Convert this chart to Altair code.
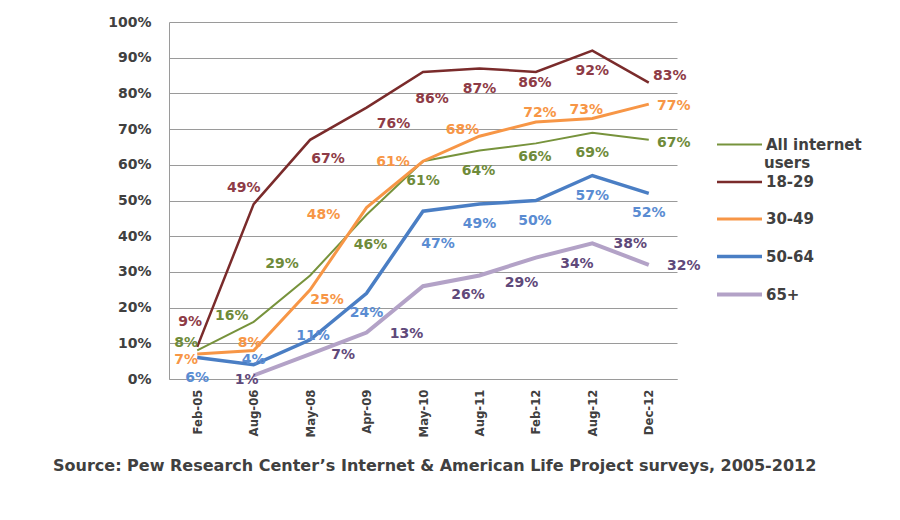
import altair as alt
import pandas as pd

dates = ["Feb-05", "Aug-06", "May-08", "Apr-09", "May-10", "Aug-11", "Feb-12", "Aug-12", "Dec-12"]
series_names = ["All internet users", "18-29", "30-49", "50-64", "65+"]
all_users = [8, 16, 29, 46, 61, 64, 66, 69, 67]
age_18_29 = [9, 49, 67, 76, 86, 87, 86, 92, 83]
age_30_49 = [7, 8, 25, 48, 61, 68, 72, 73, 77]
age_50_64 = [6, 4, 11, 24, 47, 49, 50, 57, 52]
age_65_plus = [None, 1, 7, 13, 26, 29, 34, 38, 32]
y_ticks = [0, 10, 20, 30, 40, 50, 60, 70, 80, 90, 100]
source_text = "Source: Pew Research Center\u2019s Internet & American Life Project surveys, 2005-2012"

values_by_series = [all_users, age_18_29, age_30_49, age_50_64, age_65_plus]

rows = []
for name, vals in zip(series_names, values_by_series):
    for d, v in zip(dates, vals):
        if v is None:
            continue
        rows.append({"series": name, "date": d, "value": v, "label": f"{v}%"})
df = pd.DataFrame(rows)

# ---- styles ----
line_colors = ["#77933C", "#7A2B2B", "#F79646", "#4A7EC4", "#B3A2C7"]
line_widths = [2, 4, 3.5, 3.5, 3]
label_colors = ["#6F8B3A", "#8E3B46", "#F79646", "#5A8CD2", "#5F497A"]
# label placement (pixel offsets from each point), one list per series
label_offsets = {
    "All internet users": [(-11, -7), (-22, -6), (-28, -11), (4, 30), (0, 20), (-1, 20), (-1, 14), (0, 20), (25, 3)],
    "18-29": [(-7, -25), (-10, -16), (18, 19), (27, 16), (9, 27), (0, 21), (-1, 11), (0, 20), (21, -7)],
    "30-49": [(-11, 6), (-4, -7), (17, 10), (-43, 7), (-30, 1), (-17, -6), (4, -9), (-6, -8), (25, 2)],
    "50-64": [(0, 20), (0, -5), (3, -4), (0, 20), (15, 33), (0, 20), (-1, 20), (0, 20), (0, 20)],
    "65+": [(0, 0), (-7, 5), (33, 1), (40, 1), (45, 9), (42, 8), (41, 6), (38, 1), (35, 1)],
}

FONT = "DejaVu Sans"
TEXT_GRAY = "#404040"
GRID = "#9A9A9A"

x_enc = alt.X("date:N", sort=dates,
              scale=alt.Scale(type="point", padding=0.5),
              axis=alt.Axis(title=None, labelAngle=-90, labelFont="DejaVu Sans Condensed",
                            labelFontWeight="bold", labelFontSize=13, labelColor=TEXT_GRAY,
                            labelPadding=10, ticks=False, domainColor=GRID, grid=False))
y_enc = alt.Y("value:Q", scale=alt.Scale(domain=[0, 100], nice=False),
              axis=alt.Axis(title=None, values=y_ticks, labelExpr="datum.value + '%'",
                            labelOverlap=False, labelFont=FONT, labelFontWeight="bold",
                            labelFontSize=14, labelColor=TEXT_GRAY, labelPadding=18,
                            ticks=False, domainColor=GRID, gridColor=GRID, gridWidth=1))

base = alt.Chart(df)

lines = base.mark_line(strokeJoin="miter").encode(
    x=x_enc,
    y=y_enc,
    color=alt.Color("series:N", sort=series_names,
                    scale=alt.Scale(domain=series_names, range=line_colors),
                    legend=alt.Legend(title=None, orient="none", legendX=546, legendY=99,
                                      symbolType="stroke", symbolSize=2025, symbolStrokeWidth=4,
                                      labelFont=FONT, labelFontWeight="bold", labelFontSize=15,
                                      labelColor=TEXT_GRAY, labelLimit=300, labelOffset=2,
                                      rowPadding=5,
                                      labelExpr="datum.label == 'All internet users' ? 'All internet' : datum.label")),
    strokeWidth=alt.StrokeWidth("series:N", scale=alt.Scale(domain=series_names, range=line_widths),
                                legend=None),
    order=alt.Order("x_order:Q"),
).transform_calculate(x_order=f"indexof({dates}, datum.date)")

layers = [lines]
for name, col in zip(series_names, label_colors):
    for d, (dx, dy) in zip(dates, label_offsets[name]):
        layers.append(
            base.transform_filter((alt.datum.series == name) & (alt.datum.date == d))
            .mark_text(dx=dx, dy=dy, font=FONT, fontWeight="bold", fontSize=14, color=col,
                       align="center", baseline="middle")
            .encode(x=x_enc, y=y_enc, text="label:N")
        )

# second line of the wrapped legend label "All internet users"
legend_wrap = alt.Chart(pd.DataFrame({"t": [series_names[0].split(" ")[-1]]})).mark_text(
    align="left", baseline="middle", font=FONT, fontWeight="bold", fontSize=15, color=TEXT_GRAY
).encode(x=alt.value(595), y=alt.value(141), text="t:N")
layers.append(legend_wrap)

source = alt.Chart(pd.DataFrame({"t": [source_text]})).mark_text(
    align="left", baseline="middle", font=FONT, fontWeight="bold", fontSize=16, color=TEXT_GRAY
).encode(x=alt.value(-116), y=alt.value(444), text="t:N")
layers.append(source)

chart = alt.layer(*layers).properties(
    width=508, height=357,
    autosize=alt.AutoSizeParams(type="none"),
    padding={"left": 169, "top": 22, "right": 223, "bottom": 141},
    background="white",
).configure_view(stroke=None)

chart.save("out.html", embed_options={"renderer": "svg", "actions": False})
